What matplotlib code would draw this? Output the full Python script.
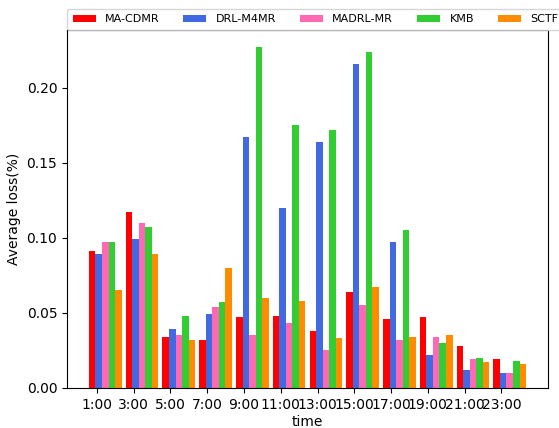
import matplotlib
matplotlib.use('Agg')
import matplotlib.pyplot as plt
import numpy as np

hours = ['1:00', '3:00', '5:00', '7:00', '9:00', '11:00',
         '13:00', '15:00', '17:00', '19:00', '21:00', '23:00']

ma_cdmr = [0.091, 0.117, 0.034, 0.032, 0.047, 0.048, 0.038, 0.064, 0.046, 0.047, 0.028, 0.019]
drl_m4mr = [0.089, 0.099, 0.039, 0.049, 0.167, 0.120, 0.164, 0.216, 0.097, 0.022, 0.012, 0.010]
madrl_mr = [0.097, 0.110, 0.035, 0.054, 0.035, 0.043, 0.025, 0.055, 0.032, 0.034, 0.019, 0.010]
kmb = [0.097, 0.107, 0.048, 0.057, 0.227, 0.175, 0.172, 0.224, 0.105, 0.030, 0.020, 0.018]
sctf = [0.065, 0.089, 0.032, 0.080, 0.060, 0.058, 0.033, 0.067, 0.034, 0.035, 0.017, 0.016]

series = [ma_cdmr, drl_m4mr, madrl_mr, kmb, sctf]
names = ['MA-CDMR', 'DRL-M4MR', 'MADRL-MR', 'KMB', 'SCTF']
colors = ['red', 'royalblue', 'hotpink', 'limegreen', 'darkorange']

fig = plt.figure(figsize=(5.59, 4.28), dpi=100)
ax = fig.add_axes([0.1199, 0.0935, 0.8604, 0.8364])

x = np.arange(len(hours))
w = 0.178
for i in range(len(series)):
    ax.bar(x + (i - 0.72) * w, series[i], width=w, color=colors[i], label=names[i])

ax.set_xticks(x)
ax.set_xticklabels(hours)
ax.set_xlabel('time', labelpad=2.5)
ax.set_ylabel('Average loss(%)')

# legend sits on top of the axes and runs off the right edge, like the original
ax.legend(loc='lower left', bbox_to_anchor=(0, 1), borderaxespad=0,
          ncol=5, fontsize=8, handlelength=2.07, handletextpad=0.84,
          columnspacing=2.15, borderpad=0.5)

fig.savefig('out.png', dpi=100)
